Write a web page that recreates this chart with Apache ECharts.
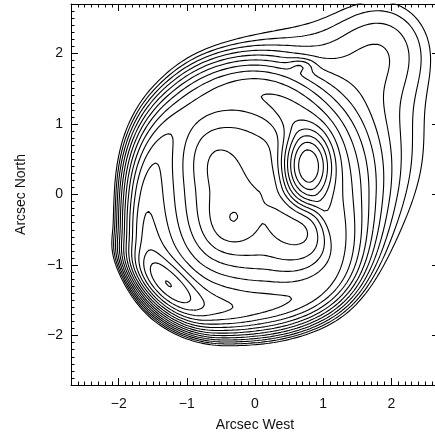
<!DOCTYPE html>
<html>
<head>
<meta charset="utf-8">
<script src="https://cdn.jsdelivr.net/npm/echarts@6/dist/echarts.min.js"></script>
<style>
  html, body { margin: 0; padding: 0; background: #fff; }
  #chart { width: 435px; height: 438px; }
</style>
</head>
<body>
<div id="chart"></div>
<script>
// ring of emission round the central hole at 8 position angles
const ringCenter   = [0.08, 0.02];
const ringAngle    = [0, 45, 90, 135, 180, 225, 270, 315];
const ringRadius   = [0.82, 0.95, 1.38, 1.53, 1.63, 1.85, 1.58, 1.50];
const ringPeak     = [0.22, 0.20, 0.16, 0.15, 0.32, 0.45, 0.30, 0.20];
const ringInner    = [0.16, 0.18, 0.40, 0.40, 0.45, 0.45, 0.45, 0.25];
const ringOuter    = [0.45, 0.40, 0.30, 0.28, 0.20, 0.20, 0.22, 0.24];

// compact pieces on top of the ring: centre, peak, sigma along pa, sigma across, pa (deg)
const compName = ['knotW', 'knotSE', 'holeFloor', 'halo', 'tailNE', 'knotN'];
const compX    = [0.77, -1.28, 0.15, 0.85, 1.90, 0.67];
const compY    = [0.40, -1.27, 0.00, 0.75, 2.10, 1.82];
const compAmp  = [0.95, 0.45, 0.043, 0.050, 0.020, 0.028];
const compSa   = [0.18, 0.35, 0.85, 0.95, 0.50, 0.12];
const compSb   = [0.26, 0.15, 0.34, 0.95, 0.50, 0.065];
const compPA   = [0, -41, -58, 0, 0, 0];

// contour levels (log spaced)
const contourLevels = [0.012, 0.0163, 0.0222, 0.0302, 0.0411, 0.0559, 0.076, 0.1034, 0.1406, 0.1912, 0.26, 0.3537, 0.481, 0.654, 0.89];

// tick labels
const majorTicks = [-2, -1, 0, 1, 2];

const chart = echarts.init(document.getElementById('chart'), null, { renderer: 'canvas' });

const mean = arr => arr.reduce((s, v) => s + v, 0) / arr.length;

// periodic catmull-rom through the ring samples, eased to the mean near the centre
function ringValue(arr, deg, r) {
  const n = arr.length;
  const t = (((deg % 360) + 360) % 360) / (360 / n);
  const i = Math.floor(t), f = t - i;
  const p0 = arr[(i - 1 + n) % n], p1 = arr[i % n], p2 = arr[(i + 1) % n], p3 = arr[(i + 2) % n];
  const v = 0.5 * (2 * p1 + (-p0 + p2) * f + (2 * p0 - 5 * p1 + 4 * p2 - p3) * f * f + (-p0 + 3 * p1 - 3 * p2 + p3) * f * f * f);
  const m = mean(arr);
  return m + (v - m) * (1 - Math.exp(-r * r / (2 * 0.25 * 0.25)));
}

function field(x, y) {
  const rx = x - ringCenter[0], ry = y - ringCenter[1];
  const r = Math.sqrt(rx * rx + ry * ry);
  const deg = Math.atan2(ry, rx) * 180 / Math.PI;
  const R = ringValue(ringRadius, deg, r);
  const A = ringValue(ringPeak, deg, r);
  let s;
  if (r < R) {
    const lam = ringValue(ringInner, deg, r);
    const u = R - r, c = 0.15;
    s = A * Math.exp(-(Math.sqrt(u * u + c * c) - c) / lam);
  } else {
    const w = ringValue(ringOuter, deg, r);
    s = A * Math.exp(-0.5 * (r - R) * (r - R) / (w * w));
  }
  for (let k = 0; k < compX.length; k++) {
    const dx = x - compX[k], dy = y - compY[k];
    const t = compPA[k] * Math.PI / 180;
    const u = dx * Math.cos(t) + dy * Math.sin(t);
    const v = -dx * Math.sin(t) + dy * Math.cos(t);
    s += compAmp[k] * Math.exp(-0.5 * (u * u / (compSa[k] * compSa[k]) + v * v / (compSb[k] * compSb[k])));
  }
  return s;
}

// sample the map on a grid a bit bigger than the plot
const N = 300;
const gx = [], gy = [];
for (let i = 0; i < N; i++) {
  gx.push(-2.9 + 5.8 * i / (N - 1));
  gy.push(-2.9 + 5.8 * i / (N - 1));
}
const vals = [];
for (let j = 0; j < N; j++) {
  const row = [];
  for (let i = 0; i < N; i++) row.push(field(gx[i], gy[j]));
  vals.push(row);
}

// marching squares, then join the pieces into polylines
function contourLines(level) {
  const pts = new Map();
  const adj = new Map();
  const addPt = (key, x1, y1, v1, x2, y2, v2) => {
    if (!pts.has(key)) {
      const t = (level - v1) / (v2 - v1);
      pts.set(key, [x1 + t * (x2 - x1), y1 + t * (y2 - y1)]);
    }
    return key;
  };
  const link = (a, b) => {
    if (!adj.has(a)) adj.set(a, []);
    if (!adj.has(b)) adj.set(b, []);
    adj.get(a).push(b);
    adj.get(b).push(a);
  };
  for (let j = 0; j < N - 1; j++) {
    for (let i = 0; i < N - 1; i++) {
      const a = vals[j][i], b = vals[j][i + 1], c = vals[j + 1][i + 1], d = vals[j + 1][i];
      const ha = a >= level, hb = b >= level, hc = c >= level, hd = d >= level;
      const e = [null, null, null, null];
      if (ha !== hb) e[0] = addPt('h' + i + '_' + j, gx[i], gy[j], a, gx[i + 1], gy[j], b);
      if (hb !== hc) e[1] = addPt('v' + (i + 1) + '_' + j, gx[i + 1], gy[j], b, gx[i + 1], gy[j + 1], c);
      if (hd !== hc) e[2] = addPt('h' + i + '_' + (j + 1), gx[i], gy[j + 1], d, gx[i + 1], gy[j + 1], c);
      if (ha !== hd) e[3] = addPt('v' + i + '_' + j, gx[i], gy[j], a, gx[i], gy[j + 1], d);
      const found = e.filter(k => k !== null);
      if (found.length === 2) {
        link(found[0], found[1]);
      } else if (found.length === 4) {
        const hm = (a + b + c + d) / 4 >= level;
        if (ha === hm) { link(e[0], e[1]); link(e[2], e[3]); }
        else { link(e[3], e[0]); link(e[1], e[2]); }
      }
    }
  }
  const used = new Set();
  const lines = [];
  const walk = (start, closed) => {
    const line = [];
    let cur = start;
    while (cur !== undefined) {
      used.add(cur);
      line.push(pts.get(cur));
      cur = adj.get(cur).find(k => !used.has(k));
    }
    if (closed) line.push(pts.get(start));
    lines.push(line);
  };
  adj.forEach((nb, key) => { if (nb.length === 1 && !used.has(key)) walk(key, false); });
  adj.forEach((nb, key) => { if (!used.has(key)) walk(key, true); });
  return lines;
}

const series = [];
contourLevels.forEach(level => {
  contourLines(level).forEach(line => {
    series.push({
      type: 'line',
      data: line,
      xAxisIndex: 0,
      yAxisIndex: 0,
      symbol: 'none',
      silent: true,
      clip: true,
      lineStyle: { color: '#000', width: 1.1 }
    });
  });
});

const textFont = { fontFamily: 'Liberation Sans, Arial, sans-serif', fontSize: 14, color: '#111' };

function tickLabel(v) {
  return majorTicks.indexOf(v) >= 0 ? String(v).replace('-', '\u2212') : '';
}

// major axis (labels + long ticks) and minor axis (short ticks every 0.1)
function makeAxis(position, major, withLabels, name) {
  const ax = {
    type: 'value',
    min: -2.7,
    max: 2.7,
    position: position,
    splitLine: { show: false },
    axisLine: { show: major, onZero: false, lineStyle: { color: '#000', width: 1 } },
    axisTick: { show: true, inside: true, length: major ? 7 : 3.5, lineStyle: { color: '#000', width: 1 } },
    axisLabel: { show: false }
  };
  if (!major) {
    ax.interval = 0.1;
  } else {
    ax.splitNumber = 5;
  }
  if (withLabels) {
    ax.axisLabel = Object.assign({
      show: true,
      formatter: tickLabel,
      showMinLabel: false,
      showMaxLabel: false,
      margin: position === 'left' ? 8 : 12
    }, textFont);
    ax.name = name;
    ax.nameLocation = 'middle';
    ax.nameGap = position === 'left' ? 43 : 33;
    ax.nameTextStyle = Object.assign({}, textFont);
  }
  return ax;
}

const option = {
  animation: false,
  backgroundColor: '#fff',
  grid: { left: 71, top: 4, width: 368, height: 381, outerBoundsMode: 'none', containLabel: false },
  xAxis: [
    makeAxis('bottom', true, true, 'Arcsec West'),
    makeAxis('bottom', false, false),
    makeAxis('top', true, false),
    makeAxis('top', false, false)
  ],
  yAxis: [
    makeAxis('left', true, true, 'Arcsec North'),
    makeAxis('left', false, false),
    makeAxis('right', true, false),
    makeAxis('right', false, false)
  ],
  series: series
};

chart.setOption(option);
</script>
</body>
</html>
